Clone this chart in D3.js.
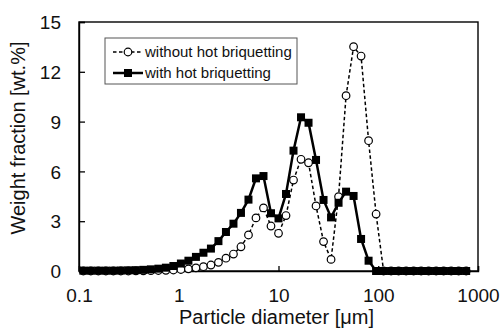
<!DOCTYPE html>
<html>
<head>
<meta charset="utf-8">
<script src="https://cdn.jsdelivr.net/npm/d3@7"></script>
<style>
  html, body { margin: 0; padding: 0; background: #fff; }
  svg { display: block; font-family: "Liberation Sans", Arial, sans-serif; }
</style>
</head>
<body>
<svg id="chart" width="502" height="329"></svg>
<script>
// particle size classes [µm]
const sizes = [0.1105, 0.1314, 0.1563, 0.1859, 0.2210, 0.2628, 0.3125, 0.3716, 0.4419, 0.5256,
  0.625, 0.7433, 0.8839, 1.051, 1.25, 1.487, 1.768, 2.102, 2.5, 2.973,
  3.536, 4.204, 5, 5.946, 7.071, 8.409, 10, 11.89, 14.14, 16.82,
  20, 23.78, 28.28, 33.64, 40, 47.57, 56.57, 67.27, 80, 95.14,
  113.1, 134.5, 160, 190.3, 226.3, 269.1, 320, 380.5, 452.5, 538.2, 640, 761.1];

// weight fraction [wt.%]
const withoutHB = [0, 0, 0, 0, 0, 0, 0, 0.01, 0.01, 0.02,
  0.03, 0.04, 0.06, 0.09, 0.13, 0.19, 0.26, 0.36, 0.52, 0.77,
  1.02, 1.46, 2.17, 3.2, 3.8, 2.71, 2.27, 3.34, 5.48, 6.73,
  6.52, 3.92, 1.77, 0.70, 4.48, 10.56, 13.51, 12.95, 7.85, 3.43,
  0, 0, 0, 0, 0, 0, 0, 0, 0, 0, 0, 0];

const withHB = [0.02, 0.02, 0.02, 0.02, 0.02, 0.03, 0.04, 0.05, 0.07, 0.1,
  0.14, 0.2, 0.3, 0.45, 0.62, 0.85, 1.1, 1.35, 1.8, 2.35,
  2.85, 3.5, 4.3, 5.58, 5.72, 3.48, 3.17, 4.64, 7.25, 9.26,
  8.93, 6.69, 4.28, 3.23, 4.11, 4.78, 4.52, 1.93, 0.62, 0,
  0, 0, 0, 0, 0, 0, 0, 0, 0, 0, 0, 0];

const xTicks = [0.1, 1, 10, 100, 1000];
const yTicks = [0, 3, 6, 9, 12, 15];
const seriesNames = ["without hot briquetting", "with hot briquetting"];

const margin = { left: 79, right: 478, top: 22, bottom: 271 };
const sq = 8; // square marker size

const svg = d3.select("#chart");

const x = d3.scaleLog().domain([0.1, 1000]).range([margin.left, margin.right]);
const y = d3.scaleLinear().domain([0, 15]).range([margin.bottom, margin.top]);

// frame
svg.append("rect")
  .attr("x", margin.left).attr("y", margin.top)
  .attr("width", margin.right - margin.left)
  .attr("height", margin.bottom - margin.top)
  .attr("fill", "none").attr("stroke", "#000").attr("stroke-width", 1.4);

// axes, ticks pointing inwards
const xAxis = svg.append("g")
  .attr("transform", `translate(0,${margin.bottom})`)
  .call(d3.axisBottom(x).tickValues(xTicks).tickSize(-5).tickFormat(d3.format("")));
const yAxis = svg.append("g")
  .attr("transform", `translate(${margin.left},0)`)
  .call(d3.axisLeft(y).tickValues(yTicks).tickSize(-6));

[xAxis, yAxis].forEach(a => {
  a.select(".domain").attr("stroke", "#000").attr("stroke-width", 1.4);
  a.selectAll(".tick line").attr("stroke", "#000").attr("stroke-width", 1.3);
  a.selectAll(".tick text")
    .attr("fill", "#111")
    .attr("font-size", 19)
    .attr("font-family", "Liberation Sans, Arial, sans-serif");
});
xAxis.selectAll(".tick text").attr("y", 31).attr("dy", 0);
yAxis.selectAll(".tick text").attr("x", -18).attr("dy", "0.35em");

// axis titles
svg.append("text")
  .attr("x", (margin.left + margin.right) / 2 - 2).attr("y", 324)
  .attr("text-anchor", "middle").attr("font-size", 20).attr("fill", "#111")
  .text("Particle diameter [μm]");

svg.append("text")
  .attr("transform", "translate(25,138) rotate(-90)")
  .attr("text-anchor", "middle").attr("font-size", 20).attr("fill", "#111")
  .text("Weight fraction [wt.%]");

const pts = vals => vals.map((v, i) => [sizes[i], v]);
const line = d3.line().x(d => x(d[0])).y(d => y(d[1]));

// without hot briquetting: dashed line, open circles
const g1 = svg.append("g");
g1.append("path")
  .datum(pts(withoutHB))
  .attr("d", line)
  .attr("fill", "none").attr("stroke", "#000")
  .attr("stroke-width", 1.5).attr("stroke-dasharray", "3.5,2.5");
g1.selectAll("circle")
  .data(pts(withoutHB))
  .join("circle")
  .attr("cx", d => x(d[0])).attr("cy", d => y(d[1]))
  .attr("r", 3.8)
  .attr("fill", "#fff").attr("stroke", "#000").attr("stroke-width", 1.2);

// with hot briquetting: solid line, filled squares
const g2 = svg.append("g");
g2.append("path")
  .datum(pts(withHB))
  .attr("d", line)
  .attr("fill", "none").attr("stroke", "#000").attr("stroke-width", 2.5);
g2.selectAll("rect")
  .data(pts(withHB))
  .join("rect")
  .attr("x", d => x(d[0]) - sq / 2).attr("y", d => y(d[1]) - sq / 2)
  .attr("width", sq).attr("height", sq)
  .attr("fill", "#000");

// legend
const lg = svg.append("g");
lg.append("rect")
  .attr("x", 105).attr("y", 38).attr("width", 192).attr("height", 46)
  .attr("fill", "#fff").attr("stroke", "#555").attr("stroke-width", 1);

const rows = [52, 73];
lg.append("line")
  .attr("x1", 113).attr("x2", 143).attr("y1", rows[0]).attr("y2", rows[0])
  .attr("stroke", "#000").attr("stroke-width", 1.5).attr("stroke-dasharray", "3.5,2.5");
lg.append("circle")
  .attr("cx", 128).attr("cy", rows[0]).attr("r", 3.8)
  .attr("fill", "#fff").attr("stroke", "#000").attr("stroke-width", 1.2);
lg.append("line")
  .attr("x1", 113).attr("x2", 143).attr("y1", rows[1]).attr("y2", rows[1])
  .attr("stroke", "#000").attr("stroke-width", 2.5);
lg.append("rect")
  .attr("x", 128 - sq / 2).attr("y", rows[1] - sq / 2).attr("width", sq).attr("height", sq)
  .attr("fill", "#000");

lg.selectAll("text.lab")
  .data(seriesNames)
  .join("text")
  .attr("class", "lab")
  .attr("x", 145).attr("y", (d, i) => rows[i])
  .attr("dy", "0.35em").attr("font-size", 15).attr("fill", "#111")
  .text(d => d);
</script>
</body>
</html>
